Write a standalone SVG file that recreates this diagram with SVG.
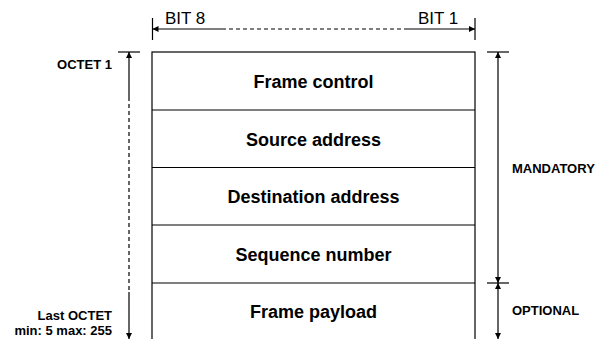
<svg xmlns="http://www.w3.org/2000/svg" width="599" height="339" viewBox="0 0 599 339">
<defs>
<style>
.ln{stroke:#000;stroke-width:1.2;fill:none}
.dash{stroke:#000;stroke-width:1.2;fill:none;stroke-dasharray:4,3}
.row{font-family:"Liberation Sans",Arial,sans-serif;font-weight:bold;font-size:18px;text-anchor:middle;fill:#000}
.lbl{font-family:"Liberation Sans",Arial,sans-serif;font-weight:bold;font-size:13px;fill:#000}
.bit{font-family:"Liberation Sans",Arial,sans-serif;font-size:17px;fill:#000}
</style>
<marker id="ah" viewBox="0 0 10 10" refX="10" refY="5" markerWidth="6" markerHeight="6" orient="auto-start-reverse" markerUnits="userSpaceOnUse">
<path d="M0,0 L10,5 L0,10 z" fill="#000"/>
</marker>
</defs>
<rect width="599" height="339" fill="#fff"/>

<g id="frame">
<rect x="152" y="52" width="323" height="295" class="ln"/>
</g>
<g id="frame-control">
<text class="row" x="313.5" y="88">Frame control</text>
</g>
<g id="source-address">
<line class="ln" x1="152" y1="110" x2="475" y2="110"/>
<text class="row" x="313.5" y="145.5">Source address</text>
</g>
<g id="destination-address">
<line class="ln" x1="152" y1="167.5" x2="475" y2="167.5"/>
<text class="row" x="313.5" y="203">Destination address</text>
</g>
<g id="sequence-number">
<line class="ln" x1="152" y1="225" x2="475" y2="225"/>
<text class="row" x="313.5" y="261">Sequence number</text>
</g>
<g id="frame-payload">
<line class="ln" x1="152" y1="283" x2="475" y2="283"/>
<text class="row" x="313.5" y="318">Frame payload</text>
</g>

<g id="bit-labels">
<text class="bit" x="165" y="24">BIT 8</text>
<text class="bit" x="418" y="24">BIT 1</text>
</g>
<g id="left-labels">
<text class="lbl" x="112" y="69" text-anchor="end">OCTET 1</text>
<text class="lbl" x="112" y="320" text-anchor="end">Last OCTET</text>
<text class="lbl" x="112" y="335" text-anchor="end">min: 5 max: 255</text>
</g>
<g id="right-labels">
<text class="lbl" x="512" y="173">MANDATORY</text>
<text class="lbl" x="512" y="315">OPTIONAL</text>
</g>

<g id="connectors">
<!-- top bit width -->
<line class="ln" x1="152.5" y1="18" x2="152.5" y2="40"/>
<line class="ln" x1="475" y1="18" x2="475" y2="40"/>
<line class="ln" x1="222" y1="29" x2="152.5" y2="29" marker-end="url(#ah)"/>
<line class="dash" x1="222" y1="29" x2="407" y2="29"/>
<line class="ln" x1="407" y1="29" x2="475" y2="29" marker-end="url(#ah)"/>
<!-- left octet range -->
<line class="ln" x1="118" y1="52" x2="140" y2="52"/>
<line class="ln" x1="129" y1="97" x2="129" y2="52" marker-end="url(#ah)"/>
<line class="dash" x1="129" y1="97" x2="129" y2="292"/>
<line class="ln" x1="129" y1="292" x2="129" y2="339" marker-end="url(#ah)"/>
<!-- right mandatory/optional -->
<line class="ln" x1="487" y1="52" x2="509" y2="52"/>
<line class="ln" x1="487" y1="283" x2="509" y2="283"/>
<line class="ln" x1="498" y1="52" x2="498" y2="283" marker-start="url(#ah)" marker-end="url(#ah)"/>
<line class="ln" x1="498" y1="283" x2="498" y2="339" marker-start="url(#ah)" marker-end="url(#ah)"/>
</g>
</svg>
